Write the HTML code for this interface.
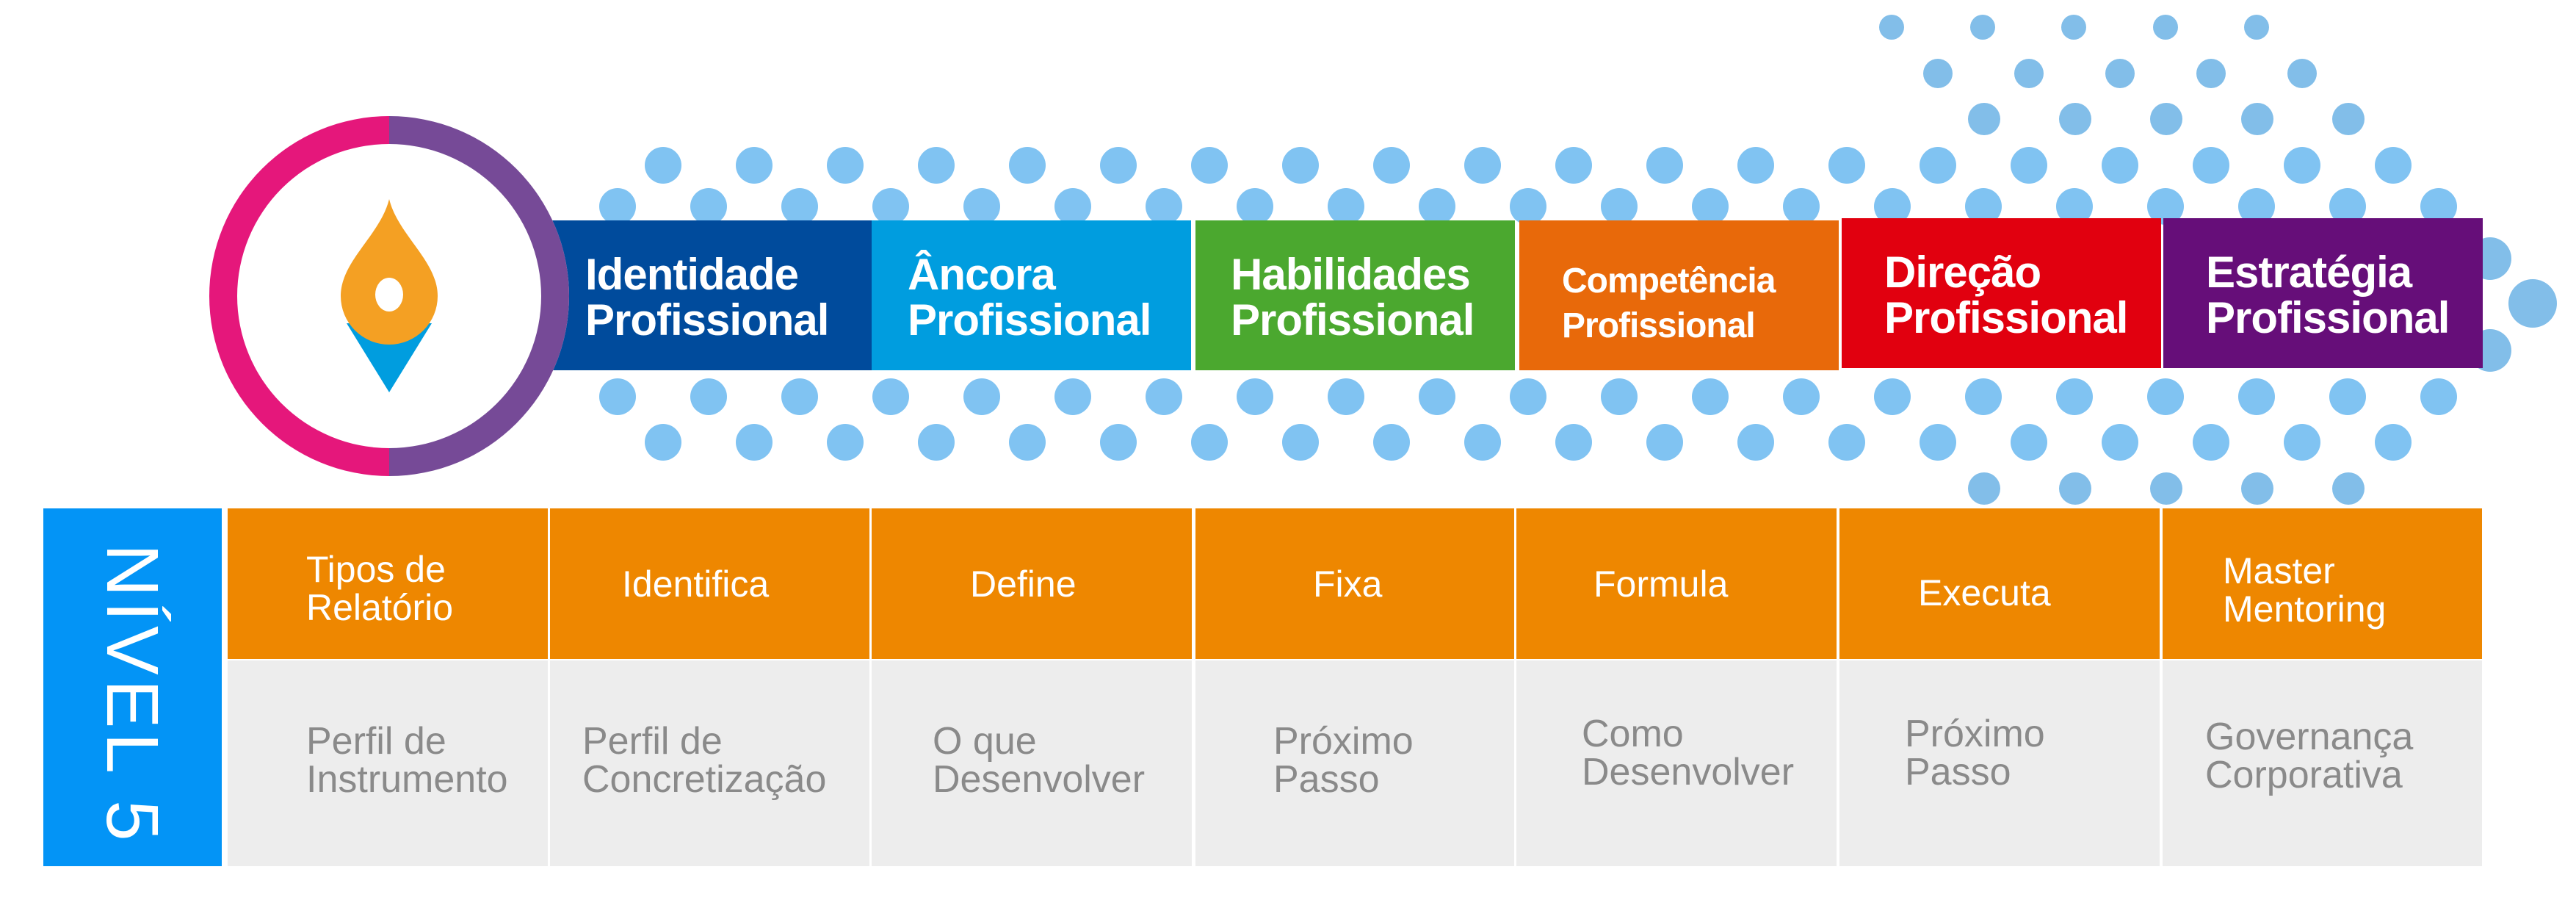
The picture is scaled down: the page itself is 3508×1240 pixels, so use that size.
<!DOCTYPE html>
<html><head><meta charset="utf-8"><style>
html,body{margin:0;padding:0;background:#fff;}
#c{position:relative;width:3508px;height:1240px;overflow:hidden;background:#fff;font-family:"Liberation Sans",sans-serif;}
.box{position:absolute;top:300px;height:204px;width:435px;}
.bt{position:absolute;color:#fff;font-weight:bold;font-size:60px;line-height:62px;letter-spacing:-1px;white-space:nowrap;}
.o{position:absolute;top:692px;height:205px;background:#EE8700;}
.g{position:absolute;top:899px;height:280px;background:#EDEDED;}
.ot{position:absolute;color:#fff;font-size:50px;line-height:52px;white-space:nowrap;}
.gt{position:absolute;color:#8a8a8a;font-size:52px;line-height:52px;white-space:nowrap;}
</style></head><body><div id="c">
<svg width="3508" height="1240" style="position:absolute;left:0;top:0">
<defs>
<pattern id="pd" patternUnits="userSpaceOnUse" x="841" y="0" width="124" height="1240">
<circle cx="62" cy="225" r="25" fill="#80C3F2"/>
<circle cx="62" cy="602" r="25" fill="#80C3F2"/>
<circle cx="0" cy="281" r="25" fill="#80C3F2"/><circle cx="124" cy="281" r="25" fill="#80C3F2"/>
<circle cx="0" cy="540" r="25" fill="#80C3F2"/><circle cx="124" cy="540" r="25" fill="#80C3F2"/>
</pattern>
</defs>
<rect x="816" y="190" width="2531" height="450" fill="url(#pd)"/>
<g fill="#82BEE9">
<circle cx="2576" cy="37" r="17"/><circle cx="2700" cy="37" r="17"/><circle cx="2824" cy="37" r="17"/><circle cx="2949" cy="37" r="17"/><circle cx="3073" cy="37" r="17"/>
<circle cx="2639" cy="100" r="20"/><circle cx="2763" cy="100" r="20"/><circle cx="2887" cy="100" r="20"/><circle cx="3011" cy="100" r="20"/><circle cx="3135" cy="100" r="20"/>
<circle cx="2702" cy="162" r="22"/><circle cx="2826" cy="162" r="22"/><circle cx="2950" cy="162" r="22"/><circle cx="3074" cy="162" r="22"/><circle cx="3198" cy="162" r="22"/>
<circle cx="2702" cy="665" r="22"/><circle cx="2826" cy="665" r="22"/><circle cx="2950" cy="665" r="22"/><circle cx="3074" cy="665" r="22"/><circle cx="3198" cy="665" r="22"/>
<circle cx="3391" cy="352" r="29"/><circle cx="3449" cy="413" r="33"/><circle cx="3391" cy="477" r="29"/>
</g>
</svg>
<div class="box" style="left:752px;background:#004B9C"></div>
<div class="box" style="left:1187px;background:#009DDF"></div>
<div class="box" style="left:1628px;background:#4BA82F"></div>
<div class="box" style="left:2069px;background:#E8690A"></div>
<div class="box" style="left:2508px;top:297px;background:#E1000F"></div>
<div class="box" style="left:2946px;top:297px;background:#660E79"></div>
<svg width="3508" height="1240" style="position:absolute;left:0;top:0">
<circle cx="530" cy="403" r="245" fill="#fff"/>
<path d="M530,158 A245,245 0 0 0 530,648 L530,610 A207,207 0 0 1 530,196 Z" fill="#E5177B"/>
<path d="M530,158 A245,245 0 0 1 530,648 L530,610 A207,207 0 0 0 530,196 Z" fill="#764A97"/>
<path d="M472,440 L588,440 L530,534 Z" fill="#009DDF"/>
<path d="M530,271 C542,320 596,355 596,403 A66,66 0 0 1 464,403 C464,355 518,320 530,271 Z" fill="#F4A023"/>
<ellipse cx="530" cy="401" rx="19" ry="23" fill="#fff"/>
</svg>
<div class="bt" style="left:797px;top:343px">Identidade<br>Profissional</div>
<div class="bt" style="left:1236px;top:343px">Âncora<br>Profissional</div>
<div class="bt" style="left:1676px;top:343px">Habilidades<br>Profissional</div>
<div class="bt" style="left:2127px;top:352px;font-size:48px;line-height:61px;">Competência<br>Profissional</div>
<div class="bt" style="left:2566px;top:340px">Direção<br>Profissional</div>
<div class="bt" style="left:3004px;top:340px">Estratégia<br>Profissional</div>

<div style="position:absolute;left:59px;top:692px;width:243px;height:487px;background:#0394F6"></div>
<div style="position:absolute;left:180px;top:940px;width:0;height:0;">
<div style="position:absolute;left:-200px;top:-50px;width:400px;height:100px;transform:rotate(90deg);color:#fff;font-size:100px;line-height:100px;text-align:center;letter-spacing:6px;white-space:nowrap;">NÍVEL 5</div></div>

<div class="o" style="left:310px;width:436px"></div><div class="g" style="left:310px;width:436px"></div>
<div class="o" style="left:749px;width:435px"></div><div class="g" style="left:749px;width:435px"></div>
<div class="o" style="left:1187px;width:436px"></div><div class="g" style="left:1187px;width:436px"></div>
<div class="o" style="left:1628px;width:434px"></div><div class="g" style="left:1628px;width:434px"></div>
<div class="o" style="left:2065px;width:436px"></div><div class="g" style="left:2065px;width:436px"></div>
<div class="o" style="left:2505px;width:436px"></div><div class="g" style="left:2505px;width:436px"></div>
<div class="o" style="left:2945px;width:435px"></div><div class="g" style="left:2945px;width:435px"></div>

<div class="ot" style="left:417px;top:749px">Tipos de<br>Relatório</div>
<div class="ot" style="left:847px;top:769px">Identifica</div>
<div class="ot" style="left:1321px;top:769px">Define</div>
<div class="ot" style="left:1788px;top:769px">Fixa</div>
<div class="ot" style="left:2170px;top:769px">Formula</div>
<div class="ot" style="left:2612px;top:781px">Executa</div>
<div class="ot" style="left:3027px;top:751px">Master<br>Mentoring</div>

<div class="gt" style="left:417px;top:983px">Perfil de<br>Instrumento</div>
<div class="gt" style="left:793px;top:983px">Perfil de<br>Concretização</div>
<div class="gt" style="left:1270px;top:983px">O que<br>Desenvolver</div>
<div class="gt" style="left:1734px;top:983px">Próximo<br>Passo</div>
<div class="gt" style="left:2154px;top:973px">Como<br>Desenvolver</div>
<div class="gt" style="left:2594px;top:973px">Próximo<br>Passo</div>
<div class="gt" style="left:3003px;top:977px">Governança<br>Corporativa</div>
</div></body></html>
